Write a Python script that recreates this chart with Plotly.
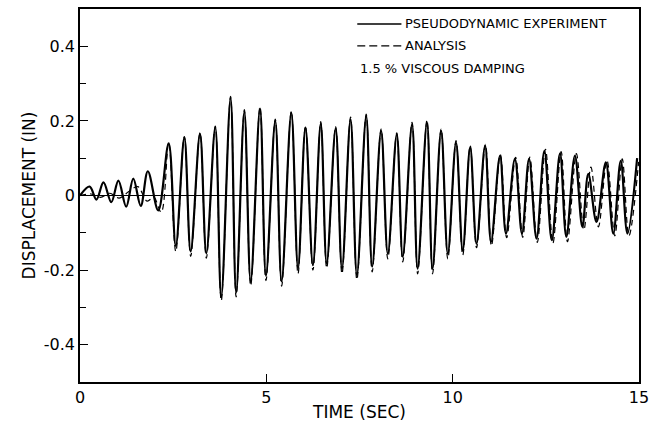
import plotly.graph_objects as go

# Displacement history extrema (time in sec, displacement in inches)
exp_t = [0.0, 0.26, 0.44, 0.63, 0.84, 1.03, 1.24, 1.43, 1.63, 1.82, 2.10,
         2.38, 2.57, 2.80, 2.97, 3.22, 3.39, 3.63, 3.79, 4.04, 4.19, 4.41, 4.58,
         4.83, 4.99, 5.24, 5.41, 5.67, 5.85, 6.05, 6.25, 6.46, 6.62, 6.86, 7.03,
         7.26, 7.43, 7.68, 7.84, 8.08, 8.26, 8.50, 8.66, 8.91, 9.06, 9.31, 9.46,
         9.69, 9.87, 10.09, 10.27, 10.47, 10.64, 10.87, 11.03, 11.27, 11.43,
         11.67, 11.86, 12.05, 12.25, 12.46, 12.66, 12.88, 13.05, 13.28, 13.48,
         13.64, 13.86, 14.11, 14.31, 14.51, 14.69, 14.95]
exp_d = [0.0, 0.024, -0.011, 0.035, -0.018, 0.040, -0.030, 0.045, -0.028, 0.065, -0.040,
         0.140, -0.135, 0.155, -0.150, 0.165, -0.155, 0.183, -0.272, 0.262, -0.260, 0.225, -0.230,
         0.233, -0.215, 0.200, -0.230, 0.222, -0.195, 0.182, -0.187, 0.193, -0.182, 0.180, -0.196,
         0.204, -0.213, 0.213, -0.191, 0.173, -0.156, 0.164, -0.164, 0.191, -0.196, 0.196, -0.196,
         0.173, -0.156, 0.142, -0.147, 0.129, -0.129, 0.133, -0.124, 0.107, -0.102,
         0.098, -0.102, 0.098, -0.116, 0.120, -0.120, 0.113, -0.111, 0.107, -0.084,
         0.058, -0.071, 0.089, -0.102, 0.093, -0.102, 0.100]

ana_t = [0.0, 0.30, 0.55, 0.80, 1.05, 1.30, 1.55, 1.80, 1.98, 2.18,
         2.38, 2.57, 2.80, 2.97, 3.22, 3.39, 3.63, 3.79, 4.04, 4.19, 4.41, 4.58,
         4.83, 4.99, 5.24, 5.41, 5.67, 5.85, 6.05, 6.25, 6.46, 6.62, 6.86, 7.03,
         7.26, 7.43, 7.68, 7.84, 8.08, 8.26, 8.50, 8.66, 8.91, 9.06, 9.31, 9.46,
         9.69, 9.87, 10.09, 10.27, 10.47, 10.64, 10.88, 11.04, 11.28, 11.45,
         11.69, 11.88, 12.07, 12.27, 12.49, 12.69, 12.91, 13.08, 13.32, 13.52,
         13.71, 13.91, 14.14, 14.35, 14.55, 14.73, 14.99]
ana_d = [0.0, 0.004, -0.005, 0.006, -0.007, 0.010, 0.024, -0.015, -0.005, -0.045,
         0.142, -0.150, 0.158, -0.163, 0.168, -0.168, 0.186, -0.282, 0.266, -0.272, 0.230, -0.242,
         0.238, -0.228, 0.205, -0.243, 0.226, -0.210, 0.187, -0.200, 0.198, -0.195, 0.185, -0.210,
         0.210, -0.226, 0.218, -0.205, 0.178, -0.170, 0.168, -0.178, 0.196, -0.210, 0.202, -0.210,
         0.178, -0.170, 0.147, -0.160, 0.134, -0.140, 0.137, -0.135, 0.110, -0.113,
         0.102, -0.112, 0.103, -0.126, 0.124, -0.128, 0.118, -0.124, 0.112, -0.092,
         0.076, -0.084, 0.094, -0.108, 0.098, -0.108, 0.090]

y_ticks = [-0.4, -0.2, 0, 0.2, 0.4]
y_labels = ["-0.4", "-0.2", "0", "0.2", "0.4"]
x_ticks = [0, 5, 10, 15]
x_labels = ["0", "5", "10", "15"]

FONT = "DejaVu Sans"

fig = go.Figure()
fig.add_trace(go.Scatter(x=exp_t, y=exp_d, mode="lines",
                         line=dict(color="black", width=2.2, shape="spline", smoothing=1.0),
                         name="PSEUDODYNAMIC EXPERIMENT", showlegend=False))
fig.add_trace(go.Scatter(x=ana_t, y=ana_d, mode="lines",
                         line=dict(color="black", width=1.2, dash="6px,4px",
                                   shape="spline", smoothing=1.0),
                         name="ANALYSIS", showlegend=False))

# Key in the upper right
fig.add_shape(type="line", xref="paper", yref="paper", x0=0.496, x1=0.575, y0=0.96, y1=0.96,
              line=dict(color="black", width=1.5))
fig.add_shape(type="line", xref="paper", yref="paper", x0=0.496, x1=0.575, y0=0.901, y1=0.901,
              line=dict(color="black", width=1.3, dash="8px,4px"))
key_font = dict(family=FONT, size=13, color="black")
fig.add_annotation(xref="paper", yref="paper", x=0.578, y=0.96, xanchor="left", yanchor="middle",
                   text="PSEUDODYNAMIC EXPERIMENT", showarrow=False, font=key_font)
fig.add_annotation(xref="paper", yref="paper", x=0.578, y=0.901, xanchor="left", yanchor="middle",
                   text="ANALYSIS", showarrow=False, font=key_font)
fig.add_annotation(xref="paper", yref="paper", x=0.497, y=0.84, xanchor="left", yanchor="middle",
                   text="1.5 % VISCOUS DAMPING", showarrow=False, font=key_font)

fig.update_layout(
    width=656, height=427,
    margin=dict(l=80, r=16, t=7, b=45),
    paper_bgcolor="white", plot_bgcolor="white",
    font=dict(family=FONT, color="black"),
    xaxis=dict(range=[0, 15], tickvals=x_ticks, ticktext=x_labels,
               ticks="inside", ticklen=8, tickwidth=1, tickcolor="black",
               showline=True, mirror=True, linecolor="black", linewidth=1.5,
               showgrid=False, zeroline=False, tickfont=dict(size=16),
               title=dict(text="TIME (SEC)", font=dict(size=17), standoff=0)),
    yaxis=dict(range=[-0.5, 0.5], tickvals=y_ticks, ticktext=y_labels,
               ticks="inside", ticklen=8, tickwidth=1, tickcolor="black",
               minor=dict(tickmode="linear", tick0=0, dtick=0.1, ticks="inside",
                          ticklen=6, tickcolor="black", showgrid=False),
               showline=True, mirror=True, linecolor="black", linewidth=1.5,
               showgrid=False, zeroline=True, zerolinecolor="black", zerolinewidth=1,
               tickfont=dict(size=16),
               title=dict(text="DISPLACEMENT (IN)", font=dict(size=17), standoff=4)),
)

fig.write_html("out.html")
